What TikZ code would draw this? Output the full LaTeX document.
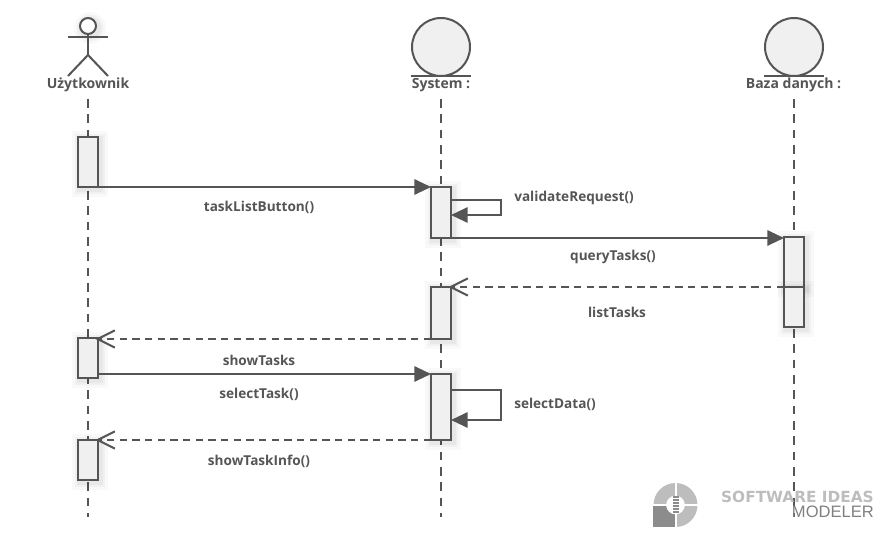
\documentclass[tikz,border=0pt]{standalone}
\usepackage{fontspec}
\setmainfont{Open Sans}
\newfontfamily\logofont{DejaVu Sans}
\newfontfamily\logothin{Liberation Sans}
\usetikzlibrary{positioning,arrows.meta}

\definecolor{umlgray}{HTML}{555555}
\definecolor{umlfill}{HTML}{F0F0F0}
\definecolor{logolight}{HTML}{BDBDBD}
\definecolor{logodark}{HTML}{8C8C8C}

\begin{document}
\begin{tikzpicture}[
        x=0.75pt,
        y=-0.75pt,
        softshadow/.style={
            preaction={draw=black, draw opacity=0.025, line width=12pt, rounded corners=4pt, transform canvas={shift={(1.5pt,-1.5pt)}}},
            preaction={draw=black, draw opacity=0.03, line width=8pt, rounded corners=3pt, transform canvas={shift={(1.5pt,-1.5pt)}}},
            preaction={draw=black, draw opacity=0.04, line width=4.5pt, rounded corners=2pt, transform canvas={shift={(1.5pt,-1.5pt)}}}
        },
        actbox/.style={
            rectangle,
            draw=umlgray,
            fill=umlfill,
            line width=1.5pt,
            minimum width=15pt,
            inner sep=0pt,
            outer sep=0pt,
            softshadow
        },
        headcircle/.style={
            circle,
            draw=umlgray,
            fill=umlfill,
            line width=1.5pt,
            minimum size=43.5pt,
            inner sep=0pt
        },
        namelabel/.style={
            font=\bfseries\fontsize{10.5}{12}\selectfont,
            text=umlgray,
            inner sep=0pt
        },
        msglabel/.style={
            font=\bfseries\fontsize{10.2}{12}\selectfont,
            text=umlgray,
            inner sep=0pt
        },
        lifeline/.style={
            draw=umlgray,
            line width=1.5pt,
            dash pattern=on 6.5pt off 5pt
        },
        limb/.style={
            draw=umlgray,
            line width=1.5pt
        },
        msgcall/.style={
            draw=umlgray,
            line width=1.5pt,
            -{Triangle[length=12.5pt,width=11.5pt]}
        },
        msgreturn/.style={
            draw=umlgray,
            line width=1.5pt,
            dash pattern=on 5.5pt off 4pt,
            shorten >=-2pt,
            -{Straight Barb[length=13pt,width=13pt,line width=1.5pt]}
        }
    ]
    \useasboundingbox (0,0) rectangle (884,538);

    % Lifeline ends
    \coordinate (userstart) at (88,99);
    \coordinate (userend) at (88,517);
    \coordinate (sysstart) at (441,99);
    \coordinate (sysend) at (441,517);
    \coordinate (dbstart) at (794,99);
    \coordinate (dbend) at (794,517);

    \draw[lifeline] (userstart) -- (userend);
    \draw[lifeline] (sysstart) -- (sysend);
    \draw[lifeline] (dbstart) -- (dbend);

    % Actor
    \node[circle, draw=umlgray, fill=white, line width=1.5pt, minimum size=12pt, inner sep=0pt, softshadow] (userhead) at (88,26) {};
    \coordinate (userarml) at (68,37);
    \coordinate (userarmr) at (108,37);
    \coordinate (userhip) at (88,55);
    \coordinate (userlegl) at (68,76);
    \coordinate (userlegr) at (108,76);
    \draw[limb] (userhead) -- (userhip);
    \draw[limb] (userarml) -- (userarmr);
    \draw[limb] (userlegl) -- (userhip) -- (userlegr);
    \node[namelabel] (username) at (88,85) {Użytkownik};

    % Object heads
    \node[headcircle] (syshead) at (441,47) {};
    \coordinate (sysbasel) at (411,76);
    \coordinate (sysbaser) at (471,76);
    \draw[limb] (sysbasel) -- (sysbaser);
    \node[namelabel] (sysname) at (441,85) {System :};

    \node[headcircle] (dbhead) at (794,47) {};
    \coordinate (dbbasel) at (764,76);
    \coordinate (dbbaser) at (824,76);
    \draw[limb] (dbbasel) -- (dbbaser);
    \node[namelabel] (dbname) at (793.5,85) {Baza danych :};

    % Activations
    \node[actbox, minimum height=37.5pt] (user1) at (88,162) {};
    \node[actbox, minimum height=30pt] (user2) at (88,358) {};
    \node[actbox, minimum height=30pt] (user3) at (88,460) {};
    \node[actbox, minimum height=38.25pt] (sys1) at (441,212.5) {};
    \node[actbox, minimum height=39pt] (sys2) at (441,313) {};
    \node[actbox, minimum height=49.5pt] (sys3) at (441,407) {};
    \node[actbox, minimum height=37.5pt] (db1) at (794,262) {};
    \node[actbox, minimum height=30pt] (db2) at (794,307) {};

    % Messages
    \draw[msgcall] (user1.south east) -- (sys1.west |- user1.south);
    \draw[msgcall] (sys1.south east) -- (db1.west |- sys1.south);
    \draw[msgreturn] (db2.north west) -- (sys2.north east);
    \draw[msgreturn] (sys2.south west) -- (user2.east |- sys2.south);
    \draw[msgcall] (user2.east |- 0,374) -- (sys3.west |- 0,374);
    \draw[msgreturn] (sys3.south west) -- (user3.north east);

    % Self calls
    \draw[msgcall] (sys1.east |- 0,200) -- (501,200) -- (501,215) -- (sys1.east |- 0,215);
    \draw[msgcall] (sys3.east |- 0,390) -- (501,390) -- (501,420) -- (sys3.east |- 0,420);

    % Message labels
    \node[msglabel] (lbltask) at (259,207) {taskListButton()};
    \node[msglabel] (lblvalid) at (574,198) {validateRequest()};
    \node[msglabel] (lblquery) at (613,257) {queryTasks()};
    \node[msglabel] (lbllist) at (617,312) {listTasks};
    \node[msglabel] (lblshow) at (259,360) {showTasks};
    \node[msglabel] (lblselect) at (259,394) {selectTask()};
    \node[msglabel] (lbldata) at (555,404) {selectData()};
    \node[msglabel] (lblinfo) at (259,461) {showTaskInfo()};

    % Logo
    \fill[logolight] (675.5,505) circle (16.5pt);
    \fill[logodark] (653,506) rectangle (674.5,527);
    \fill[white] (675.5,505) circle (7pt);
    \fill[white] (674.5,482) rectangle (676.5,528);
    \fill[white] (652,504) rectangle (699,506);
    \foreach \row in {0,...,5} {
        \fill[logodark] (672.5,{496+3*\row}) rectangle (679,{498+3*\row});
    }
    \node[anchor=east, inner sep=0pt, font=\logofont\bfseries\fontsize{11.5}{12}\selectfont, text=logolight] (logotop) at (874,497) {SOFTWARE IDEAS};
    \node[anchor=east, inner sep=0pt, font=\logothin\fontsize{12.4}{13}\selectfont, text=umlgray!75] (logobottom) at (874,512) {MODELER};

\end{tikzpicture}
\end{document}
